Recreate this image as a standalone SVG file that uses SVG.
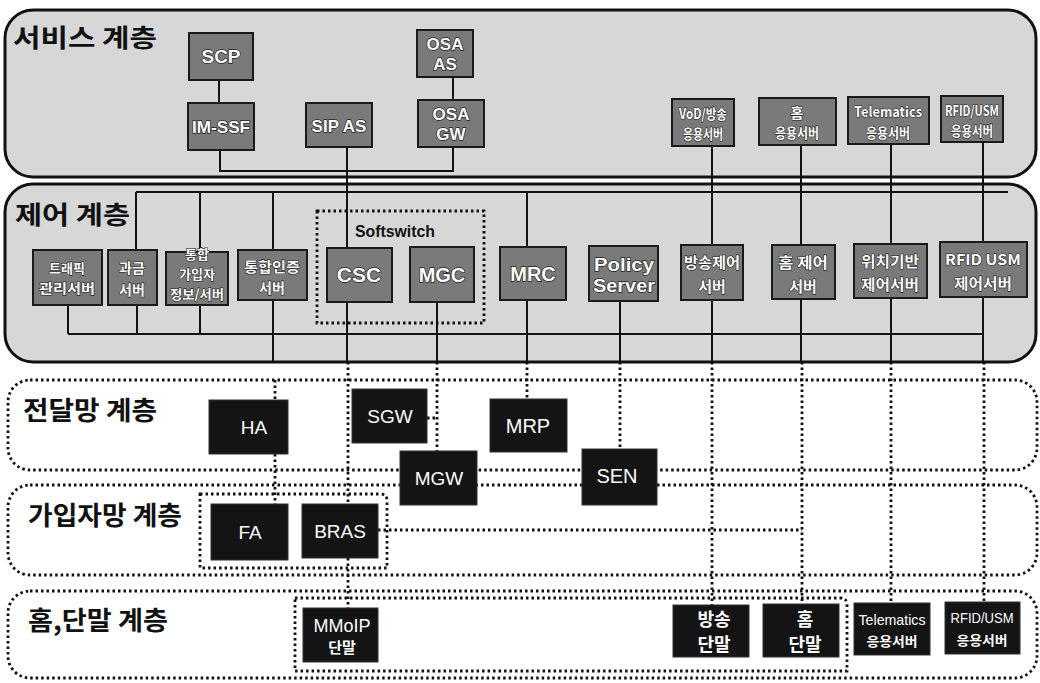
<svg xmlns="http://www.w3.org/2000/svg" width="1040" height="683" viewBox="0 0 1040 683">
<style>
.layer{fill:#d7d7d7;stroke:#111;stroke-width:3}
.dlayer{fill:none;stroke:#111;stroke-width:2.8;stroke-dasharray:2.5 3}
.gbox{fill:#7a7a7a;stroke:#1a1a1a;stroke-width:2}
.bbox{fill:#141414;stroke:#333;stroke-width:1}
.ln{fill:none;stroke:#111;stroke-width:2}
.dl{fill:none;stroke:#111;stroke-width:2.8;stroke-dasharray:2.5 3}
.title{font-family:"Noto Sans CJK KR","Liberation Sans",sans-serif;font-weight:bold;fill:#111}
.gt{font-family:"Liberation Sans","Noto Sans CJK KR",sans-serif;fill:#fff;stroke:#222;stroke-width:1.4;paint-order:stroke;text-anchor:middle;font-weight:bold}
.gk{font-family:"Noto Sans CJK KR","Liberation Sans",sans-serif;fill:#fff;stroke:#222;stroke-width:1.2;paint-order:stroke;text-anchor:middle;font-weight:bold}
.wt{font-family:"Liberation Sans","Noto Sans CJK KR",sans-serif;fill:#fff;text-anchor:middle}
.wk{font-family:"Noto Sans CJK KR","Liberation Sans",sans-serif;fill:#fff;text-anchor:middle;font-weight:bold}
</style>

<!-- layers -->
<g id="layer-service">
<rect class="layer" x="5" y="10" width="1031" height="167" rx="28"/>
<text class="title" x="13" y="47" font-size="25" textLength="144" lengthAdjust="spacingAndGlyphs">서비스 계층</text>
</g>
<g id="layer-control">
<rect class="layer" x="5" y="184" width="1031" height="178" rx="28"/>
<text class="title" x="15" y="224" font-size="25" textLength="115" lengthAdjust="spacingAndGlyphs">제어 계층</text>
</g>
<g id="layer-transport">
<rect class="dlayer" x="8" y="380" width="1029" height="90" rx="22"/>
<text class="title" x="23" y="420" font-size="26" textLength="134" lengthAdjust="spacingAndGlyphs">전달망 계층</text>
</g>
<g id="layer-subscriber">
<rect class="dlayer" x="8" y="485" width="1029" height="90" rx="22"/>
<text class="title" x="28" y="525" font-size="26" textLength="154" lengthAdjust="spacingAndGlyphs">가입자망 계층</text>
</g>
<g id="layer-home">
<rect class="dlayer" x="8" y="591" width="1029" height="87" rx="22"/>
<text class="title" x="28" y="630" font-size="26" textLength="140" lengthAdjust="spacingAndGlyphs">홈,단말 계층</text>
</g>

<!-- groupings -->
<g id="softswitch">
<rect class="dlayer" x="317" y="211" width="167" height="112"/>
<text x="355" y="237" font-family="Liberation Sans, sans-serif" font-weight="bold" font-size="16" fill="#111" textLength="80" lengthAdjust="spacingAndGlyphs">Softswitch</text>
</g>
<g id="sub-group">
<path class="dl" d="M200,494 H380 Q387,494 387,501 V568 H200 Z"/>
</g>
<g id="home-group">
<path class="dl" d="M295,598 H840 Q847,598 847,605 V671 H295 Z"/>
</g>

<!-- connectors -->
<g id="connectors">
<path class="ln" d="M219,80 V103"/>
<path class="ln" d="M453,77 V100"/>
<path class="ln" d="M220,150 V171 H453 V147"/>
<path class="ln" d="M347,147 V248"/>
<path class="ln" d="M712,146 V245"/>
<path class="ln" d="M801,145 V245"/>
<path class="ln" d="M891,144 V244"/>
<path class="ln" d="M983,142 V242"/>
<path class="ln" d="M136,192 H1008"/>
<path class="ln" d="M136,192 V250"/>
<path class="ln" d="M200,192 V252"/>
<path class="ln" d="M273,192 V250"/>
<path class="ln" d="M527,192 V247"/>
<path class="ln" d="M68,334 H983"/>
<path class="ln" d="M68,305 V334"/>
<path class="ln" d="M137,305 V334"/>
<path class="ln" d="M200,305 V334"/>
<path class="ln" d="M273,300 V362"/>
<path class="ln" d="M347,302 V362"/>
<path class="ln" d="M437,302 V362"/>
<path class="ln" d="M527,300 V362"/>
<path class="ln" d="M620,301 V362"/>
<path class="ln" d="M712,300 V362"/>
<path class="ln" d="M801,299 V362"/>
<path class="ln" d="M891,298 V362"/>
<path class="ln" d="M983,297 V362"/>
<path class="dl" d="M275,380 V400"/>
<path class="dl" d="M275,454 V504"/>
<path class="dl" d="M348,362 V504"/>
<path class="dl" d="M348,558 V608"/>
<path class="dl" d="M437,362 V451"/>
<path class="dl" d="M427,418 H437"/>
<path class="dl" d="M527,362 V399"/>
<path class="dl" d="M620,362 V449"/>
<path class="dl" d="M378,530 H802"/>
<path class="dl" d="M712,362 V605"/>
<path class="dl" d="M802,362 V604"/>
<path class="dl" d="M891,362 V603"/>
<path class="dl" d="M984,362 V602"/>
</g>

<!-- service nodes -->
<g id="scp"><rect class="gbox" x="189" y="33" width="64" height="47"/><text class="gt" x="221" y="63" font-size="19">SCP</text></g>
<g id="osa-as"><rect class="gbox" x="417" y="30" width="56" height="47"/><text class="gt" x="445" y="50" font-size="17">OSA</text><text class="gt" x="445" y="70" font-size="17">AS</text></g>
<g id="im-ssf"><rect class="gbox" x="188" y="103" width="66" height="47"/><text class="gt" x="221" y="133" font-size="17" textLength="58" lengthAdjust="spacingAndGlyphs">IM-SSF</text></g>
<g id="sip-as"><rect class="gbox" x="306" y="103" width="66" height="44"/><text class="gt" x="339" y="132" font-size="17">SIP AS</text></g>
<g id="osa-gw"><rect class="gbox" x="418" y="100" width="66" height="47"/><text class="gt" x="451" y="120" font-size="17">OSA</text><text class="gt" x="451" y="140" font-size="17">GW</text></g>
<g id="vod-app"><rect class="gbox" x="672" y="99" width="62" height="47"/><text class="gk" x="703" y="119" font-size="14" textLength="48" lengthAdjust="spacingAndGlyphs">VoD/방송</text><text class="gk" x="703" y="139" font-size="14" textLength="40" lengthAdjust="spacingAndGlyphs">응용서버</text></g>
<g id="home-app"><rect class="gbox" x="759" y="98" width="77" height="47"/><text class="gk" x="797" y="118" font-size="14">홈</text><text class="gk" x="797" y="138" font-size="14" textLength="44" lengthAdjust="spacingAndGlyphs">응용서버</text></g>
<g id="telematics-app"><rect class="gbox" x="848" y="97" width="81" height="47"/><text class="gk" x="888" y="117" font-size="14" textLength="68" lengthAdjust="spacingAndGlyphs">Telematics</text><text class="gk" x="888" y="138" font-size="14" textLength="44" lengthAdjust="spacingAndGlyphs">응용서버</text></g>
<g id="rfid-app"><rect class="gbox" x="941" y="96" width="62" height="46"/><text class="gk" x="972" y="116" font-size="14" textLength="54" lengthAdjust="spacingAndGlyphs">RFID/USM</text><text class="gk" x="972" y="136" font-size="14" textLength="42" lengthAdjust="spacingAndGlyphs">응용서버</text></g>

<!-- control nodes -->
<g id="traffic"><rect class="gbox" x="33" y="250" width="69" height="55"/><text class="gk" x="67" y="273" font-size="13">트래픽</text><text class="gk" x="67" y="293" font-size="13" textLength="56" lengthAdjust="spacingAndGlyphs">관리서버</text></g>
<g id="billing"><rect class="gbox" x="108" y="250" width="49" height="55"/><text class="gk" x="132" y="273" font-size="14">과금</text><text class="gk" x="132" y="295" font-size="14">서버</text></g>
<g id="subscriber-info"><rect class="gbox" x="166" y="252" width="62" height="53"/><text class="gk" x="197" y="259" font-size="13">통합</text><text class="gk" x="197" y="279" font-size="13">가입자</text><text class="gk" x="197" y="299" font-size="13" textLength="54" lengthAdjust="spacingAndGlyphs">정보/서버</text></g>
<g id="auth"><rect class="gbox" x="238" y="250" width="69" height="50"/><text class="gk" x="272" y="272" font-size="14" textLength="56" lengthAdjust="spacingAndGlyphs">통합인증</text><text class="gk" x="272" y="293" font-size="14">서버</text></g>
<g id="csc"><rect class="gbox" x="327" y="248" width="65" height="54"/><text class="gt" x="359" y="282" font-size="21">CSC</text></g>
<g id="mgc"><rect class="gbox" x="410" y="247" width="64" height="55"/><text class="gt" x="442" y="282" font-size="20">MGC</text></g>
<g id="mrc"><rect class="gbox" x="500" y="247" width="66" height="53"/><text class="gt" x="533" y="281" font-size="20">MRC</text></g>
<g id="policy"><rect class="gbox" x="589" y="246" width="69" height="55"/><text class="gt" x="624" y="271" font-size="19" textLength="60" lengthAdjust="spacingAndGlyphs">Policy</text><text class="gt" x="624" y="292" font-size="19" textLength="62" lengthAdjust="spacingAndGlyphs">Server</text></g>
<g id="broadcast-ctrl"><rect class="gbox" x="681" y="245" width="62" height="55"/><text class="gk" x="712" y="268" font-size="15" textLength="56" lengthAdjust="spacingAndGlyphs">방송제어</text><text class="gk" x="712" y="292" font-size="15">서버</text></g>
<g id="home-ctrl"><rect class="gbox" x="772" y="245" width="63" height="54"/><text class="gk" x="803" y="268" font-size="15" textLength="50" lengthAdjust="spacingAndGlyphs">홈 제어</text><text class="gk" x="803" y="292" font-size="15">서버</text></g>
<g id="location-ctrl"><rect class="gbox" x="854" y="244" width="73" height="54"/><text class="gk" x="890" y="267" font-size="15" textLength="58" lengthAdjust="spacingAndGlyphs">위치기반</text><text class="gk" x="890" y="290" font-size="15" textLength="58" lengthAdjust="spacingAndGlyphs">제어서버</text></g>
<g id="rfid-ctrl"><rect class="gbox" x="940" y="242" width="87" height="55"/><text class="gk" x="983" y="265" font-size="15" textLength="76" lengthAdjust="spacingAndGlyphs">RFID USM</text><text class="gk" x="983" y="289" font-size="15" textLength="58" lengthAdjust="spacingAndGlyphs">제어서버</text></g>

<!-- transport nodes -->
<g id="ha"><rect class="bbox" x="209" y="400" width="79" height="54"/><text class="wt" x="254" y="434" font-size="19">HA</text></g>
<g id="sgw"><rect class="bbox" x="352" y="389" width="75" height="54"/><text class="wt" x="390" y="423" font-size="19">SGW</text></g>
<g id="mrp"><rect class="bbox" x="490" y="399" width="77" height="53"/><text class="wt" x="528" y="433" font-size="20">MRP</text></g>
<g id="mgw"><rect class="bbox" x="400" y="451" width="77" height="54"/><text class="wt" x="439" y="485" font-size="19">MGW</text></g>
<g id="sen"><rect class="bbox" x="582" y="449" width="75" height="56"/><text class="wt" x="617" y="483" font-size="20">SEN</text></g>

<!-- subscriber nodes -->
<g id="fa"><rect class="bbox" x="211" y="504" width="77" height="56"/><text class="wt" x="250" y="539" font-size="19">FA</text></g>
<g id="bras"><rect class="bbox" x="302" y="504" width="76" height="54"/><text class="wt" x="340" y="538" font-size="19">BRAS</text></g>

<!-- home nodes -->
<g id="mmoip"><rect class="bbox" x="303" y="608" width="75" height="54"/><text class="wt" x="342" y="632" font-size="18">MMoIP</text><text class="wk" x="342" y="653" font-size="15">단말</text></g>
<g id="bcast-term"><rect class="bbox" x="673" y="605" width="76" height="52"/><text class="wk" x="714" y="626" font-size="18">방송</text><text class="wk" x="714" y="651" font-size="18">단말</text></g>
<g id="home-term"><rect class="bbox" x="763" y="604" width="76" height="53"/><text class="wk" x="805" y="626" font-size="18">홈</text><text class="wk" x="805" y="651" font-size="18">단말</text></g>
<g id="telematics-term"><rect class="bbox" x="854" y="603" width="76" height="52"/><text class="wt" x="892" y="625" font-size="15" textLength="67" lengthAdjust="spacingAndGlyphs">Telematics</text><text class="wk" x="892" y="646" font-size="13" textLength="51" lengthAdjust="spacingAndGlyphs">응용서버</text></g>
<g id="rfid-term"><rect class="bbox" x="945" y="602" width="75" height="52"/><text class="wt" x="982" y="623" font-size="15" textLength="63" lengthAdjust="spacingAndGlyphs">RFID/USM</text><text class="wk" x="982" y="645" font-size="13" textLength="51" lengthAdjust="spacingAndGlyphs">응용서버</text></g>
</svg>
